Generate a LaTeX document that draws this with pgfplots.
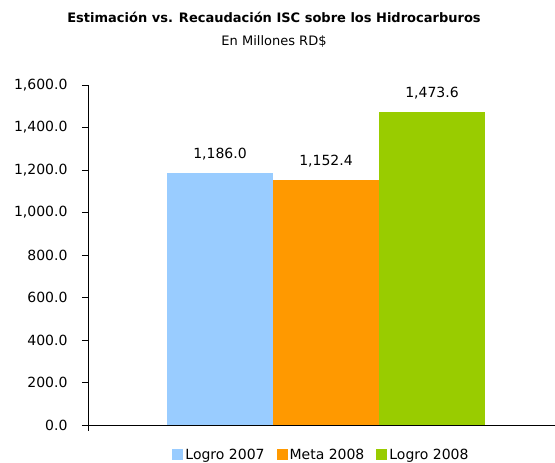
\documentclass[border=0pt]{standalone}
\usepackage{pgfplots}
\pgfplotsset{compat=1.18}
\usepackage{fontspec}
\setmainfont{DejaVu Sans}
\definecolor{azul}{RGB}{153,204,255}
\definecolor{naranja}{RGB}{255,153,0}
\definecolor{verde}{RGB}{153,204,0}

\begin{document}
\begin{tikzpicture}
\useasboundingbox (-88pt,-38pt) rectangle (467pt,425pt);
\begin{axis}[
  at={(0,0)}, anchor=south west,
  scale only axis,
  width=467pt, height=340pt,
  xmin=0, xmax=467,
  ymin=0, ymax=1600,
  ytick={0,200,...,1600},
  xtick={0}, xticklabels={},
  axis x line*=bottom, axis y line*=left,
  axis line style={line width=0.8pt},
  tick style={black, line width=0.8pt},
  tick align=outside,
  major tick length=6pt,
  ybar=0pt, bar width=106,
  ticklabel style={font=\fontsize{14}{16}\selectfont},
  yticklabel style={xshift=-11pt},
  /pgf/number format/assume math mode=true,
  yticklabel={\pgfmathprintnumber[fixed,fixed zerofill,precision=1,1000 sep={,}]{\tick}},
  nodes near coords={\pgfmathprintnumber[fixed,fixed zerofill,precision=1,1000 sep={,},assume math mode=true]{\pgfplotspointmeta}},
  nodes near coords style={font=\fontsize{14}{16}\selectfont, black, yshift=9pt},
  legend style={at={(0.5,-0.088)}, anchor=center, draw=none, legend columns=-1,
    font=\fontsize{14}{16}\selectfont, /tikz/every even column/.append style={column sep=10pt}},
  legend image code/.code={\fill[#1] (0pt,-5pt) rectangle (11pt,6pt);},
]
\addplot[fill=azul, draw=none] coordinates {(238,1186.0)};
\addplot[fill=naranja, draw=none] coordinates {(238,1152.4)};
\addplot[fill=verde, draw=none] coordinates {(238,1473.6)};
\legend{Logro 2007, Meta 2008, Logro 2008}
\end{axis}
\node[font=\bfseries\fontsize{13}{15}\selectfont] at (186pt,408pt) {Estimación vs. Recaudación ISC sobre los Hidrocarburos};
\node[font=\fontsize{13}{15}\selectfont] at (186pt,383pt) {En Millones RD\$};
\end{tikzpicture}
\end{document}
